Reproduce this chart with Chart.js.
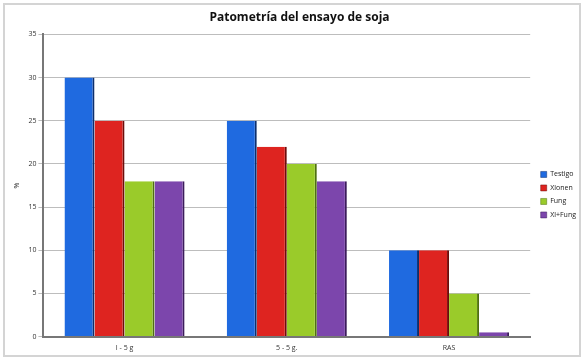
<!DOCTYPE html>
<html>
<head>
<meta charset="utf-8">
<script src="https://cdn.jsdelivr.net/npm/chart.js@4.4.0/dist/chart.umd.min.js"></script>
<style>
  html, body { margin: 0; padding: 0; background: #fff; }
  #wrap { position: relative; width: 586px; height: 363px; }
  #frame { position: absolute; left: 3px; top: 3px; width: 574px; height: 350px; border: 2px solid #d4d4d4; pointer-events: none; }
</style>
</head>
<body>
<div id="wrap">
  <canvas id="chart" width="586" height="363"></canvas>
  <div id="frame"></div>
</div>
<script>
const CATEGORIES = ["I - 5 g", "5 - 5 g.", "RAS"];
const SERIES_NAMES = ["Testigo", "Xlonen", "Fung", "Xl+Fung"];
const TESTIGO = [30, 25, 10];
const XLONEN = [25, 22, 10];
const FUNG = [18, 20, 5];
const XL_FUNG = [18, 18, 0.5];
const Y_TICKS = [0, 5, 10, 15, 20, 25, 30, 35];

const FILLS = ["#1f6ae0", "#de2420", "#9acb2a", "#7c46ac"];
const EDGES = ["#0c2f6e", "#6e0c0a", "#4f7010", "#3c1c5c"];

const seriesData = [TESTIGO, XLONEN, FUNG, XL_FUNG];

const ctx = document.getElementById("chart");

new Chart(ctx, {
  type: "bar",
  data: {
    labels: CATEGORIES,
    datasets: seriesData.map((d, i) => ({
      label: SERIES_NAMES[i],
      data: d,
      backgroundColor: FILLS[i],
      borderColor: EDGES[i],
      borderWidth: { top: 0, left: 0, bottom: 0, right: 2 },
      borderSkipped: false,
      categoryPercentage: 0.74,
      barPercentage: 1,
    })),
  },
  options: {
    responsive: false,
    animation: false,
    layout: { padding: { left: 13, right: 0, top: 0, bottom: 4 } },
    scales: {
      x: {
        grid: { display: false, drawTicks: false },
        border: { display: true, color: "#777", width: 2 },
        ticks: { color: "#333", font: { family: "Open Sans", size: 7 }, padding: 7 },
      },
      y: {
        min: 0,
        max: 35,
        afterBuildTicks: (s) => { s.ticks = Y_TICKS.map((v) => ({ value: v })); },
        grid: { color: "#bdbdbd", tickLength: 5 },
        border: { display: true, color: "#777", width: 2 },
        ticks: { color: "#333", font: { family: "Open Sans", size: 7 }, padding: 2 },
        title: { display: true, text: "%", color: "#333", font: { family: "Open Sans", size: 7 }, padding: { top: 0, bottom: 5 } },
      },
      gap: {
        position: "right",
        display: true,
        grid: { display: false },
        border: { display: false },
        ticks: { display: false },
        afterFit: (s) => { s.width = 4; },
      },
    },
    plugins: {
      title: {
        display: true,
        text: "Patometría del ensayo de soja",
        color: "#111",
        font: { family: "Open Sans", size: 12, weight: "bold" },
        padding: { top: 10, bottom: 10 },
      },
      legend: {
        position: "right",
        title: { display: true, text: " ", font: { size: 7 }, padding: { top: 11, bottom: 11 } },
        labels: {
          boxWidth: 6,
          boxHeight: 6,
          padding: 6.5,
          color: "#222",
          font: { family: "Open Sans", size: 7 },
        },
      },
      tooltip: { enabled: false },
    },
  },
});
</script>
</body>
</html>
